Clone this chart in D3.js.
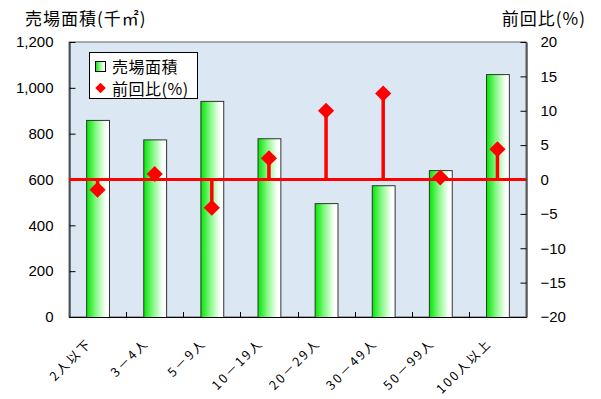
<!DOCTYPE html>
<html><head><meta charset="utf-8">
<script src="https://cdn.jsdelivr.net/npm/d3@7"></script>
<style>
body{margin:0;background:#fff;}
text{font-family:"Liberation Sans","Noto Sans CJK JP",sans-serif;fill:#000;}
.cjk{font-family:"Noto Sans CJK JP","Liberation Sans",sans-serif;}
</style></head>
<body><svg id="c" width="601" height="399"></svg>
<script>
const categories = ["2人以下","3－4人","5－9人","10－19人","20－29人","30－49人","50－99人","100人以上"];
const salesArea = [860, 775, 943, 780, 497, 575, 641, 1060];
const prevRatio = [-1.5, 0.8, -4.1, 3.1, 10.0, 12.5, 0.3, 4.4];
const leftTicks = [0,200,400,600,800,1000,1200];
const rightTicks = [-20,-15,-10,-5,0,5,10,15,20];

const svg = d3.select("#c");
const L=69, R=526, T=42, B=317;
const x = d3.scaleBand().domain(categories).range([L,R]).paddingInner(0).paddingOuter(0);
const yL = d3.scaleLinear().domain([0,1200]).range([B,T]);
const yR = d3.scaleLinear().domain([-20,20]).range([B,T]);

const defs = svg.append("defs");
const g1 = defs.append("linearGradient").attr("id","gbar").attr("x1","0").attr("x2","1").attr("y1","0").attr("y2","0");
g1.append("stop").attr("offset","0").attr("stop-color","#00e800");
g1.append("stop").attr("offset","0.4").attr("stop-color","#86f786");
g1.append("stop").attr("offset","0.85").attr("stop-color","#ffffff");
g1.append("stop").attr("offset","1").attr("stop-color","#ffffff");

// plot background
svg.append("rect").attr("x",L).attr("y",T).attr("width",R-L).attr("height",B-T)
  .attr("fill","#dce7f4").attr("stroke","#606060").attr("stroke-width",1);

// bars
const bw = x.bandwidth()*0.4;
svg.append("g").selectAll("rect").data(categories).join("rect")
  .attr("x",d=>x(d)+x.bandwidth()/2-bw/2+0.5)
  .attr("y",(d,i)=>yL(salesArea[i])+0.5)
  .attr("width",bw)
  .attr("height",(d,i)=>B-yL(salesArea[i]))
  .attr("fill","url(#gbar)").attr("stroke","#333").attr("stroke-width",1);

// x band ticks
svg.append("g").selectAll("line").data(categories.slice(1)).join("line")
  .attr("x1",d=>Math.round(x(d))+0.5).attr("x2",d=>Math.round(x(d))+0.5)
  .attr("y1",B).attr("y2",B-5).attr("stroke","#000");

// left axis
const ax = svg.append("g").attr("transform",`translate(${L+0.5},0)`)
  .call(d3.axisLeft(yL).tickValues(leftTicks).tickFormat(d3.format(",")).tickSize(-6).tickSizeOuter(0).tickPadding(16));
ax.selectAll("text").attr("font-size",15).style("font-family","Liberation Sans");
ax.selectAll("line,path").attr("stroke","#000");

// right axis
const ar = svg.append("g").attr("transform",`translate(${R+0.5},0)`)
  .call(d3.axisRight(yR).tickValues(rightTicks).tickSize(-6).tickSizeOuter(0).tickPadding(14));
ar.selectAll("text").attr("font-size",15).style("font-family","Liberation Sans");
ar.selectAll("line,path").attr("stroke","#000");

// bottom axis line
svg.append("line").attr("x1",L).attr("x2",R+1).attr("y1",B+0.5).attr("y2",B+0.5).attr("stroke","#000");

// x labels
svg.append("g").selectAll("text").data(categories).join("text")
  .attr("class","cjk")
  .attr("transform",d=>`translate(${x(d)+x.bandwidth()/2-5},344) rotate(-45)`)
  .attr("text-anchor","end").attr("font-size",12.5).attr("letter-spacing","2.2px").text(d=>d);

// zero line
svg.append("line").attr("x1",L).attr("x2",R).attr("y1",yR(0)).attr("y2",yR(0))
  .attr("stroke","#ff0000").attr("stroke-width",3);
// stems
svg.append("g").selectAll("line").data(categories).join("line")
  .attr("x1",d=>x(d)+x.bandwidth()/2).attr("x2",d=>x(d)+x.bandwidth()/2)
  .attr("y1",yR(0)).attr("y2",(d,i)=>yR(prevRatio[i]))
  .attr("stroke","#ff0000").attr("stroke-width",3.5);
// diamonds
const sym = d3.symbol().type(d3.symbolSquare).size(130);
svg.append("g").selectAll("path").data(categories).join("path")
  .attr("transform",(d,i)=>`translate(${x(d)+x.bandwidth()/2},${yR(prevRatio[i])}) rotate(45)`)
  .attr("d",sym).attr("fill","#ff0000");

// titles
svg.append("text").attr("class","cjk").attr("x",25).attr("y",25).attr("font-size",17).attr("letter-spacing","1px").text("売場面積(千㎡)");
svg.append("text").attr("class","cjk").attr("x",586).attr("y",25).attr("text-anchor","end").attr("font-size",17).attr("letter-spacing","1px").text("前回比(%)");

// legend
const lg = svg.append("g");
lg.append("rect").attr("x",89.5).attr("y",52.5).attr("width",108).attr("height",46).attr("fill","#fff").attr("stroke","#000");
lg.append("rect").attr("x",95.5).attr("y",61.5).attr("width",10).attr("height",10).attr("fill","url(#gbar)").attr("stroke","#000");
lg.append("text").attr("class","cjk").attr("x",112).attr("y",72.5).attr("font-size",16).attr("letter-spacing","0.5px").text("売場面積");
lg.append("path").attr("transform","translate(100.5,88) rotate(45)").attr("d",d3.symbol().type(d3.symbolSquare).size(55)).attr("fill","#ff0000");
lg.append("text").attr("class","cjk").attr("x",112).attr("y",94.5).attr("font-size",16).attr("letter-spacing","0.5px").text("前回比(%)");
</script></body></html>
